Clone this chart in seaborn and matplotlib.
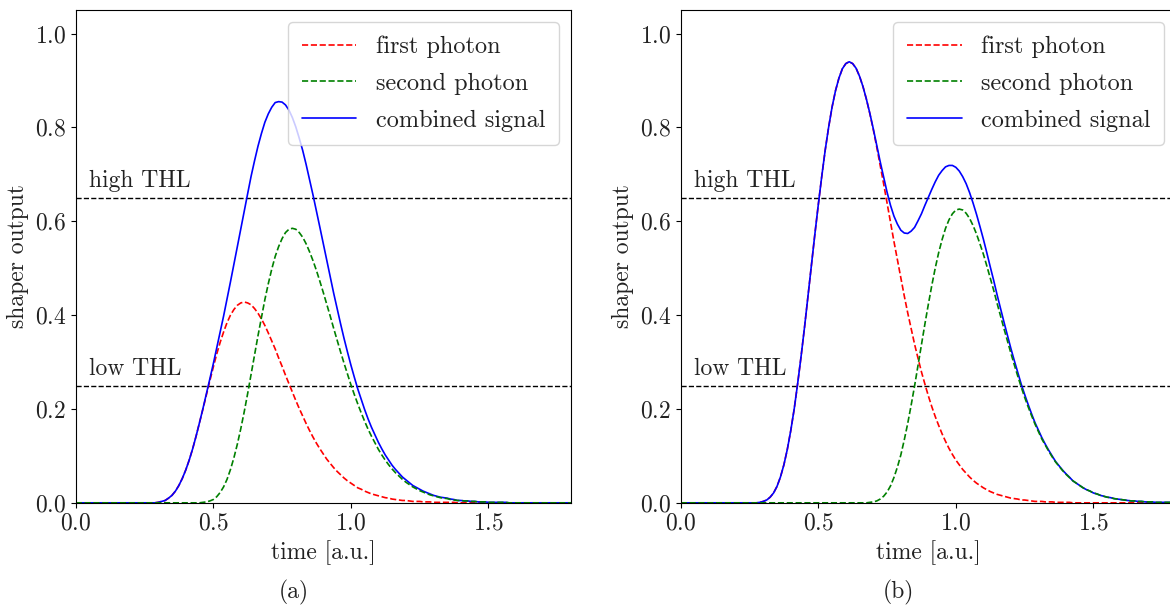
import numpy as np
import pandas as pd
import matplotlib
matplotlib.use("Agg")
import matplotlib.pyplot as plt
import seaborn as sns

# time grid [a.u.], 0 .. 1.8 in steps of 0.0125
time = np.round(np.linspace(0.0, 1.8, 145), 4)
N = len(time)

# ---- panel (a): photons close together -> pile-up ----
first_a_lead = 22
first_a_vals = [
    0.000, 0.000, 0.001, 0.003, 0.005, 0.010, 0.016, 0.025, 0.037, 0.052,
    0.070, 0.091, 0.115, 0.142, 0.171, 0.200, 0.230, 0.260, 0.289, 0.317,
    0.342, 0.364, 0.384, 0.400, 0.412, 0.421, 0.426, 0.428, 0.426, 0.422,
    0.414, 0.404, 0.392, 0.378, 0.362, 0.345, 0.328, 0.309, 0.291, 0.272,
    0.254, 0.236, 0.218, 0.201, 0.185, 0.169, 0.154, 0.140, 0.127, 0.115,
    0.104, 0.093, 0.084, 0.075, 0.067, 0.060, 0.053, 0.047, 0.042, 0.037,
    0.032, 0.029, 0.025, 0.022, 0.019, 0.017, 0.015, 0.013, 0.011, 0.010,
    0.008, 0.007, 0.006, 0.005, 0.005, 0.004, 0.003, 0.003, 0.003, 0.002,
    0.002, 0.002, 0.001, 0.001, 0.001, 0.001, 0.001, 0.001, 0.001]
second_a_lead = 36
second_a_vals = [
    0.000, 0.001, 0.002, 0.004, 0.007, 0.013, 0.022, 0.034, 0.050, 0.071,
    0.096, 0.125, 0.158, 0.194, 0.233, 0.274, 0.315, 0.356, 0.395, 0.433,
    0.467, 0.498, 0.525, 0.546, 0.563, 0.576, 0.583, 0.585, 0.583, 0.576,
    0.566, 0.552, 0.535, 0.516, 0.495, 0.472, 0.448, 0.423, 0.398, 0.372,
    0.347, 0.322, 0.298, 0.275, 0.252, 0.231, 0.211, 0.192, 0.174, 0.157,
    0.142, 0.128, 0.114, 0.102, 0.091, 0.081, 0.072, 0.064, 0.057, 0.050,
    0.044, 0.039, 0.034, 0.030, 0.026, 0.023, 0.020, 0.017, 0.015, 0.013,
    0.011, 0.010, 0.009, 0.007, 0.006, 0.005, 0.005, 0.004, 0.004, 0.003,
    0.003, 0.002, 0.002, 0.002, 0.001, 0.001, 0.001, 0.001, 0.001, 0.001]
combined_a_lead = 22
combined_a_vals = [
    0.000, 0.000, 0.001, 0.003, 0.005, 0.010, 0.016, 0.025, 0.037, 0.052,
    0.070, 0.091, 0.115, 0.142, 0.171, 0.201, 0.232, 0.264, 0.296, 0.330,
    0.364, 0.398, 0.434, 0.471, 0.508, 0.546, 0.584, 0.622, 0.659, 0.696,
    0.729, 0.760, 0.787, 0.811, 0.829, 0.843, 0.853, 0.855, 0.854, 0.848,
    0.837, 0.821, 0.801, 0.777, 0.751, 0.721, 0.689, 0.656, 0.622, 0.587,
    0.552, 0.516, 0.482, 0.447, 0.414, 0.382, 0.351, 0.322, 0.294, 0.268,
    0.243, 0.221, 0.199, 0.179, 0.161, 0.145, 0.129, 0.115, 0.102, 0.091,
    0.080, 0.071, 0.063, 0.055, 0.049, 0.043, 0.037, 0.033, 0.029, 0.025,
    0.022, 0.019, 0.016, 0.014, 0.012, 0.011, 0.010, 0.008, 0.007, 0.005,
    0.005, 0.004, 0.004, 0.003, 0.003, 0.002, 0.002, 0.002, 0.001, 0.001,
    0.001, 0.001, 0.001, 0.001]

# ---- panel (b): photons further apart -> two separate peaks ----
first_b_lead = 22
first_b_vals = [
    0.000, 0.001, 0.003, 0.006, 0.012, 0.021, 0.035, 0.055, 0.081, 0.114,
    0.154, 0.200, 0.254, 0.312, 0.374, 0.440, 0.506, 0.572, 0.635, 0.695,
    0.751, 0.800, 0.843, 0.878, 0.905, 0.925, 0.936, 0.940, 0.936, 0.926,
    0.909, 0.887, 0.860, 0.829, 0.795, 0.758, 0.719, 0.680, 0.639, 0.598,
    0.557, 0.518, 0.479, 0.441, 0.405, 0.371, 0.338, 0.308, 0.279, 0.253,
    0.228, 0.205, 0.184, 0.165, 0.147, 0.131, 0.116, 0.103, 0.091, 0.081,
    0.071, 0.063, 0.055, 0.048, 0.042, 0.037, 0.032, 0.028, 0.024, 0.021,
    0.018, 0.016, 0.014, 0.012, 0.010, 0.009, 0.008, 0.006, 0.006, 0.005,
    0.004, 0.003, 0.003, 0.003, 0.002, 0.002, 0.002, 0.001, 0.001, 0.001,
    0.001, 0.001]
second_b_lead = 54
second_b_vals = [
    0.000, 0.001, 0.002, 0.004, 0.008, 0.014, 0.023, 0.036, 0.054, 0.076,
    0.102, 0.134, 0.169, 0.208, 0.249, 0.293, 0.337, 0.381, 0.423, 0.463,
    0.500, 0.533, 0.561, 0.585, 0.603, 0.616, 0.624, 0.626, 0.624, 0.617,
    0.606, 0.591, 0.573, 0.552, 0.530, 0.505, 0.479, 0.453, 0.425, 0.398,
    0.371, 0.345, 0.319, 0.294, 0.270, 0.247, 0.225, 0.205, 0.186, 0.168,
    0.152, 0.136, 0.123, 0.110, 0.098, 0.087, 0.078, 0.069, 0.061, 0.054,
    0.047, 0.042, 0.037, 0.032, 0.028, 0.025, 0.021, 0.019, 0.016, 0.014,
    0.012, 0.011, 0.009, 0.008, 0.007, 0.006, 0.005, 0.004, 0.004, 0.003,
    0.003, 0.002, 0.002, 0.002, 0.001, 0.001, 0.001, 0.001, 0.001, 0.001,
    0.000]
combined_b_lead = 22
combined_b_vals = [
    0.000, 0.001, 0.003, 0.006, 0.012, 0.021, 0.035, 0.055, 0.081, 0.114,
    0.154, 0.200, 0.254, 0.312, 0.374, 0.440, 0.506, 0.572, 0.635, 0.695,
    0.751, 0.800, 0.843, 0.878, 0.905, 0.925, 0.936, 0.940, 0.936, 0.926,
    0.909, 0.887, 0.860, 0.830, 0.797, 0.762, 0.727, 0.694, 0.662, 0.634,
    0.611, 0.594, 0.581, 0.575, 0.574, 0.579, 0.587, 0.601, 0.616, 0.634,
    0.651, 0.668, 0.684, 0.698, 0.708, 0.716, 0.719, 0.719, 0.715, 0.707,
    0.695, 0.680, 0.661, 0.639, 0.615, 0.589, 0.562, 0.533, 0.503, 0.474,
    0.443, 0.414, 0.385, 0.357, 0.329, 0.303, 0.278, 0.253, 0.231, 0.210,
    0.190, 0.171, 0.155, 0.139, 0.125, 0.112, 0.100, 0.088, 0.079, 0.070,
    0.062, 0.055, 0.047, 0.042, 0.037, 0.032, 0.028, 0.025, 0.021, 0.019,
    0.016, 0.014, 0.012, 0.011, 0.009, 0.008, 0.007, 0.006, 0.005, 0.004,
    0.004, 0.003, 0.003, 0.002, 0.002, 0.002, 0.001, 0.001, 0.001, 0.001,
    0.001, 0.001, 0.000]

thresholds = [0.65, 0.25]
threshold_labels = ["high THL", "low THL"]
series_labels = ["first photon", "second photon", "combined signal"]
panel_labels = ["(a)", "(b)"]


def full(lead, vals):
    """Place the read values on the full time grid (zeros outside the pulse)."""
    return [0.0] * lead + list(vals) + [0.0] * (N - lead - len(vals))


sns.set_style("ticks")
plt.rcParams.update({
    "font.family": "serif",
    "font.serif": ["cmr10", "DejaVu Serif"],
    "mathtext.fontset": "cm",
    "axes.formatter.use_mathtext": True,
    "axes.edgecolor": "black",
    "axes.linewidth": 0.8,
    "xtick.color": "black",
    "ytick.color": "black",
    "text.color": "#222222",
    "axes.labelcolor": "#222222",
    "xtick.labelcolor": "#222222",
    "ytick.labelcolor": "#222222",
    "font.size": 17,
})

fig = plt.figure(figsize=(11.7, 6.1), dpi=100)
ax_a = fig.add_axes([0.0647, 0.1757, 0.4233, 0.8077])
ax_b = fig.add_axes([0.5818, 0.1757, 0.4233, 0.8077])

panels = [
    (ax_a, full(first_a_lead, first_a_vals), full(second_a_lead, second_a_vals),
     full(combined_a_lead, combined_a_vals)),
    (ax_b, full(first_b_lead, first_b_vals), full(second_b_lead, second_b_vals),
     full(combined_b_lead, combined_b_vals)),
]

for ax, f1, f2, comb in panels:
    df = pd.DataFrame({"time": time, "first": f1, "second": f2, "combined": comb})
    for thr, lab in zip(thresholds, threshold_labels):
        ax.axhline(thr, color="black", linestyle="--", linewidth=1.0, zorder=1.5)
        ax.text(0.05, thr + 0.022, lab, fontsize=17, va="baseline", ha="left")
    sns.lineplot(data=df, x="time", y="first", ax=ax, color="red",
                 linestyle="--", linewidth=1.2, label=series_labels[0], zorder=2.0)
    sns.lineplot(data=df, x="time", y="second", ax=ax, color="green",
                 linestyle="--", linewidth=1.2, label=series_labels[1], zorder=2.2)
    sns.lineplot(data=df, x="time", y="combined", ax=ax, color="blue",
                 linestyle="-", linewidth=1.2, label=series_labels[2], zorder=2.1)
    ax.set_xlim(0, 1.8)
    ax.set_ylim(0, 1.05)
    ax.set_xticks([0.0, 0.5, 1.0, 1.5])
    ax.set_yticks([0.0, 0.2, 0.4, 0.6, 0.8, 1.0])
    ax.tick_params(labelsize=17, direction="out", length=3.5, width=0.8)
    ax.set_xlabel("time [a.u.]", fontsize=17)
    ax.set_ylabel("shaper output", fontsize=17)
    ax.legend(loc="upper right", fontsize=17.5, handlelength=2.25,
              labelspacing=0.6, borderpad=0.55,
              frameon=True, fancybox=True, framealpha=0.8, edgecolor="0.8")

fig.text(0.2513, 0.0295, panel_labels[0], ha="center", va="center", fontsize=17)
fig.text(0.768, 0.0295, panel_labels[1], ha="center", va="center", fontsize=17)

fig.savefig("out.png", dpi=100)
